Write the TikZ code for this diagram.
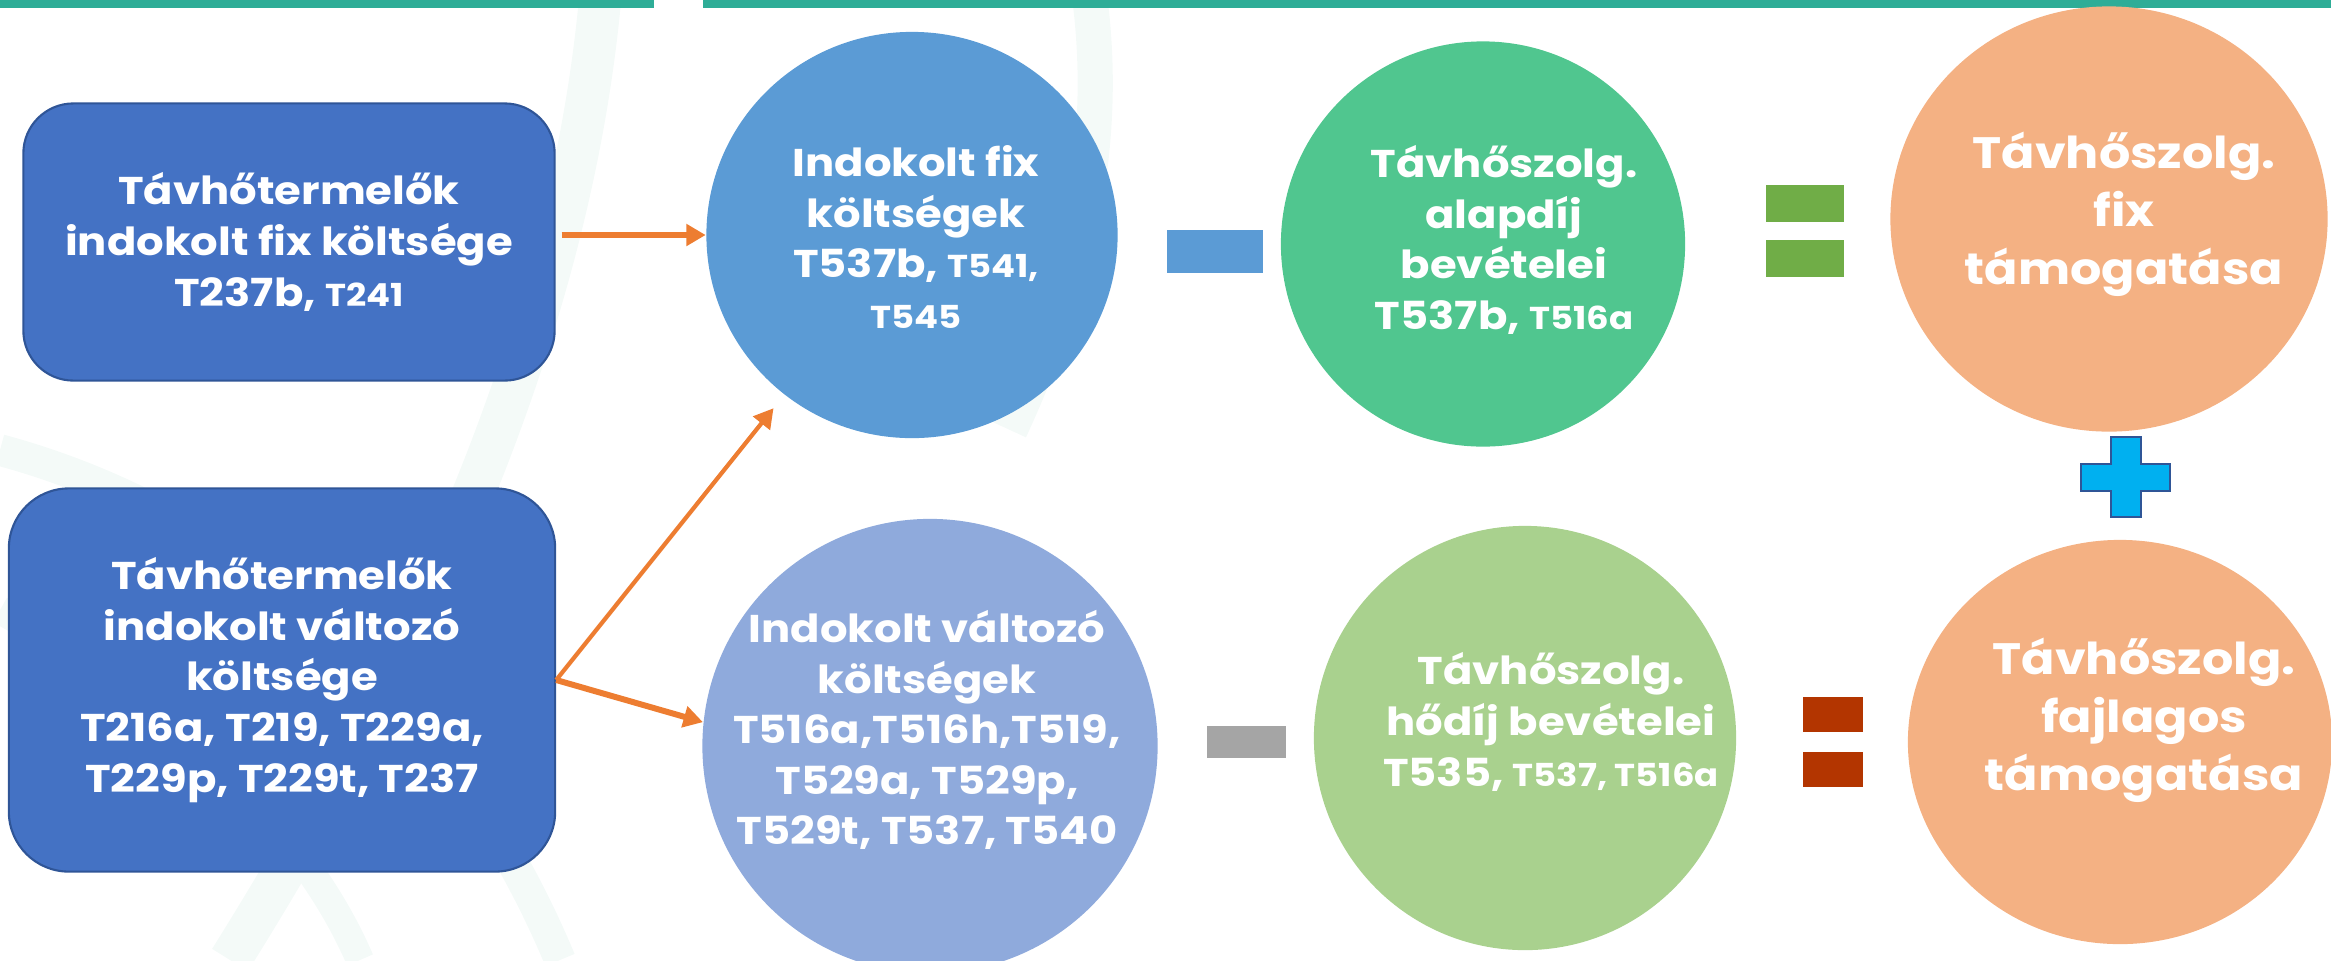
\documentclass[tikz,border=0pt]{standalone}
\usepackage{fontspec}
\setmainfont{Poppins}[FakeStretch=1.12]
\usetikzlibrary{shapes.geometric,arrows.meta}

\definecolor{barteal}{HTML}{2EAD97}
\definecolor{boxblue}{HTML}{4472C4}
\definecolor{boxline}{HTML}{2F5597}
\definecolor{fixblue}{HTML}{5B9BD5}
\definecolor{varlav}{HTML}{8FAADC}
\definecolor{alapgreen}{HTML}{50C68F}
\definecolor{hogreen}{HTML}{A9D18E}
\definecolor{tamorange}{HTML}{F4B183}
\definecolor{eqgreen}{HTML}{70AD47}
\definecolor{eqred}{HTML}{B33500}
\definecolor{minusgray}{HTML}{A5A5A5}
\definecolor{plusblue}{HTML}{00B0F0}
\definecolor{arrorange}{HTML}{ED7D31}
\definecolor{wmteal}{HTML}{F4FAF8}

\newcommand{\kis}[1]{{\fontsize{9}{11}\selectfont #1}}

\begin{document}
\begin{tikzpicture}[x=0.01cm,y=-0.01cm,
  srcbox/.style={draw=boxline,line width=0.6pt,fill=boxblue,rounded corners=0.5cm,
    inner sep=0,text=white,align=center,font=\fontsize{11}{14.4}\selectfont\bfseries},
  bubble/.style={ellipse,inner sep=0},
  bubtxt/.style={text=white,align=center,inner sep=0,font=\fontsize{11}{14.4}\selectfont\bfseries},
  bigtxt/.style={bubtxt,font=\fontsize{12.5}{16.5}\selectfont\bfseries},
  arr/.style={draw=arrorange,line width=1.7pt,-{Triangle[length=5.5pt,width=6pt]}}]
 \useasboundingbox (0,0) rectangle (2331,960);
 \clip (0,0) rectangle (2331,960);
 % faint watermark arcs
 \draw[wmteal,line width=12pt] (600,0) .. controls (570,320) and (430,640) .. (230,960);
 \draw[wmteal,line width=9pt] (0,450) .. controls (260,520) and (460,720) .. (560,960);
 \draw[wmteal,line width=10pt] (1090,0) .. controls (1110,160) and (1070,300) .. (1010,430);
 \draw[wmteal,line width=8pt] (0,610) .. controls (160,700) and (300,820) .. (360,960);
 % top bars
 \fill[barteal] (0,0) rectangle (654,8);
 \fill[barteal] (703,0) rectangle (2331,8);

 \node[srcbox,minimum width=5.31cm,minimum height=2.77cm] (fixsrc) at (289,242)
   {Távhőtermelők\\indokolt fix költsége\\T237b, \kis{T241}};
 \node[srcbox,minimum width=5.46cm,minimum height=3.83cm,rounded corners=0.6cm] (varsrc) at (282,680)
   {Távhőtermelők\\indokolt változó\\költsége\\T216a, T219, T229a,\\T229p, T229t, T237};

 \node[bubble,fill=fixblue,minimum width=4.11cm,minimum height=4.06cm] (fixk) at (912,235) {};
 \node[bubble,fill=varlav,minimum width=4.55cm,minimum height=4.54cm] (vark) at (930,746) {};
 \node[bubble,fill=alapgreen,minimum width=4.04cm,minimum height=4.05cm] (alapd) at (1483,244) {};
 \node[bubble,fill=hogreen,minimum width=4.22cm,minimum height=4.24cm] (hodij) at (1525,738) {};
 \node[bubble,fill=tamorange,minimum width=4.37cm,minimum height=4.25cm] (fixtam) at (2109,219) {};
 \node[bubble,fill=tamorange,minimum width=4.24cm,minimum height=4.04cm] (fajtam) at (2120,742) {};

 \node[bubtxt] (fixktxt) at (916,237) {Indokolt fix\\költségek\\T537b, \kis{T541,}\\\kis{T545}};
 \node[bubtxt] (varktxt) at (927,730) {Indokolt változó\\költségek\\T516a,T516h,T519,\\T529a, T529p,\\T529t, T537, T540};
 \node[bubtxt] (alapdtxt) at (1504,240) {Távhőszolg.\\alapdíj\\bevételei\\T537b, \kis{T516a}};
 \node[bubtxt] (hodijtxt) at (1551,722) {Távhőszolg.\\hődíj bevételei\\T535, \kis{T537, T516a}};
 \node[bigtxt] (fixtamtxt) at (2124,214) {Távhőszolg.\\fix\\támogatása};
 \node[bigtxt] (fajtamtxt) at (2144,720) {Távhőszolg.\\fajlagos\\támogatása};

 % operators
 \fill[fixblue] (1167,230) rectangle (1263,273);
 \fill[minusgray] (1207,726) rectangle (1286,758);
 \fill[eqgreen] (1766,185) rectangle (1844,222);
 \fill[eqgreen] (1766,240) rectangle (1844,277);
 \fill[eqred] (1803,697) rectangle (1863,732);
 \fill[eqred] (1803,752) rectangle (1863,787);
 \filldraw[fill=plusblue,draw=boxline,line width=0.6pt] (2111,437) -- (2141,437) -- (2141,464)
   -- (2170,464) -- (2170,491) -- (2141,491) -- (2141,517) -- (2111,517) -- (2111,491)
   -- (2081,491) -- (2081,464) -- (2111,464) -- cycle;

 \draw[arr,shorten <=0.06cm] (fixsrc.east |- fixk) -- (fixk.west);
 \draw[arr,line width=1.2pt,shorten >=0.17cm] (varsrc.east) -- (fixk);
 \draw[arr] (varsrc.east) -- (vark.174);
\end{tikzpicture}
\end{document}
